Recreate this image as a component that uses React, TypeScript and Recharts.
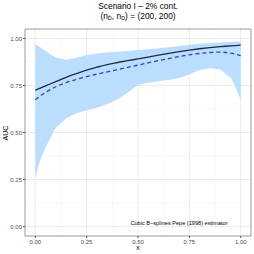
import React from 'react';
import {
  ComposedChart,
  Area,
  Line,
  XAxis,
  YAxis,
  CartesianGrid,
  ReferenceArea,
} from 'recharts';

// ---- data ----
const bandX = [0, 0.01, 0.025, 0.05, 0.075, 0.1, 0.15, 0.2, 0.25, 0.3, 0.35, 0.4, 0.45, 0.5, 0.55, 0.6, 0.65, 0.7, 0.75, 0.8, 0.85, 0.9, 0.95, 0.975, 1.0];
const bandLow = [0.26, 0.3, 0.355, 0.42, 0.475, 0.525, 0.575, 0.602, 0.617, 0.632, 0.65, 0.675, 0.712, 0.752, 0.764, 0.773, 0.779, 0.789, 0.808, 0.832, 0.842, 0.835, 0.792, 0.74, 0.674];
const bandHigh = [0.97, 0.963, 0.952, 0.935, 0.915, 0.898, 0.886, 0.897, 0.912, 0.92, 0.926, 0.929, 0.933, 0.938, 0.942, 0.948, 0.953, 0.96, 0.966, 0.971, 0.975, 0.978, 0.981, 0.983, 0.984];

const lineX = [0, 0.05, 0.1, 0.15, 0.2, 0.25, 0.3, 0.35, 0.4, 0.45, 0.5, 0.55, 0.6, 0.65, 0.7, 0.75, 0.8, 0.85, 0.9, 0.95, 1.0];
const trueAUC = [0.725, 0.748, 0.77, 0.793, 0.813, 0.832, 0.847, 0.861, 0.872, 0.882, 0.891, 0.901, 0.911, 0.921, 0.93, 0.938, 0.945, 0.951, 0.956, 0.96, 0.964];
const estAUC = [0.674, 0.713, 0.743, 0.765, 0.782, 0.797, 0.81, 0.822, 0.834, 0.846, 0.858, 0.87, 0.882, 0.893, 0.904, 0.913, 0.92, 0.925, 0.927, 0.922, 0.908];

const xTicks = [0, 0.25, 0.5, 0.75, 1];
const yTicks = [0, 0.25, 0.5, 0.75, 1];
const xMinor = [0.125, 0.375, 0.625, 0.875];
const yMinor = [0.125, 0.375, 0.625, 0.875];
const domain: [number, number] = [-0.05, 1.05];

const titleLine1 = 'Scenario I \u2013 2% cont.';
const annotation = 'Cubic B\u2212splines Pepe (1998) estimator';

const bandData = bandX.map((x, i) => ({ x, range: [bandLow[i], bandHigh[i]] }));
const lineData = lineX.map((x, i) => ({ x, truth: trueAUC[i], est: estAUC[i] }));

const fmt = (v: number) => v.toFixed(2);
const font = '"Liberation Sans", Arial, Helvetica, sans-serif';

export default function App() {
  return (
    <div
      style={{
        position: 'absolute',
        left: 0,
        top: 0,
        width: 254,
        height: 254,
        background: '#ffffff',
        fontFamily: font,
      }}
    >
      <ComposedChart
        width={254}
        height={254}
        margin={{ top: 29, right: 3, bottom: 0, left: 0 }}
        style={{ fontFamily: font }}
      >
        <CartesianGrid
          stroke="#f3f3f3"
          strokeWidth={0.6}
          verticalValues={xMinor}
          horizontalValues={yMinor}
        />
        <CartesianGrid
          stroke="#ebebeb"
          strokeWidth={1}
          verticalValues={xTicks}
          horizontalValues={yTicks}
        />
        <XAxis
          dataKey="x"
          type="number"
          domain={domain}
          ticks={xTicks}
          tickFormatter={fmt}
          allowDataOverflow
          height={18}
          axisLine={false}
          tickSize={2}
          tickMargin={1.5}
          tickLine={{ stroke: '#555555' }}
          tick={{ fontSize: 6, fill: '#4d4d4d' }}
          interval={0}
        />
        <YAxis
          type="number"
          domain={domain}
          ticks={yTicks}
          tickFormatter={fmt}
          allowDataOverflow
          width={25}
          axisLine={false}
          tickSize={2}
          tickMargin={1}
          tickLine={{ stroke: '#555555' }}
          tick={{ fontSize: 6, fill: '#4d4d4d' }}
          interval={0}
        />
        <Area
          data={bandData}
          dataKey="range"
          type="linear"
          stroke="none"
          fill="#bbdeff"
          fillOpacity={1}
          isAnimationActive={false}
          dot={false}
          activeDot={false}
        />
        <Line
          data={lineData}
          dataKey="truth"
          type="monotone"
          stroke="#1c2b47"
          strokeWidth={1.3}
          dot={false}
          activeDot={false}
          isAnimationActive={false}
        />
        <Line
          data={lineData}
          dataKey="est"
          type="monotone"
          stroke="#2a44c4"
          strokeWidth={1.3}
          strokeDasharray="4 3"
          dot={false}
          activeDot={false}
          isAnimationActive={false}
        />
        <ReferenceArea
          x1={-0.05}
          x2={1.05}
          y1={-0.05}
          y2={1.05}
          fill="none"
          fillOpacity={0}
          stroke="#9a9a9a"
          strokeWidth={1}
          ifOverflow="visible"
        />
      </ComposedChart>

      {/* titles */}
      <div
        style={{
          position: 'absolute',
          left: 138,
          top: 6,
          transform: 'translate(-50%, -50%)',
          fontSize: 8.4,
          color: '#000',
          whiteSpace: 'nowrap',
          lineHeight: 1,
        }}
      >
        {titleLine1}
      </div>
      <div
        style={{
          position: 'absolute',
          left: 138,
          top: 17,
          transform: 'translate(-50%, -50%)',
          fontSize: 8.4,
          color: '#000',
          whiteSpace: 'nowrap',
          lineHeight: 1,
        }}
      >
        (n<sub style={{ fontSize: 5.5, verticalAlign: '-1px' }}>D&#772;</sub>, n
        <sub style={{ fontSize: 5.5, verticalAlign: '-1px' }}>D</sub>) = (200, 200)
      </div>

      {/* axis titles */}
      <div
        style={{
          position: 'absolute',
          left: 5,
          top: 132.5,
          transform: 'translate(-50%, -50%) rotate(-90deg)',
          fontSize: 7,
          color: '#000',
          whiteSpace: 'nowrap',
          lineHeight: 1,
        }}
      >
        AUC
      </div>
      <div
        style={{
          position: 'absolute',
          left: 138,
          top: 247,
          transform: 'translate(-50%, -50%)',
          fontSize: 7,
          color: '#000',
          whiteSpace: 'nowrap',
          lineHeight: 1,
        }}
      >
        x
      </div>

      {/* annotation */}
      <div
        style={{
          position: 'absolute',
          left: 179,
          top: 223.5,
          transform: 'translate(-50%, -50%)',
          fontSize: 5.6,
          color: '#000',
          whiteSpace: 'nowrap',
          lineHeight: 1,
        }}
      >
        {annotation}
      </div>
    </div>
  );
}
